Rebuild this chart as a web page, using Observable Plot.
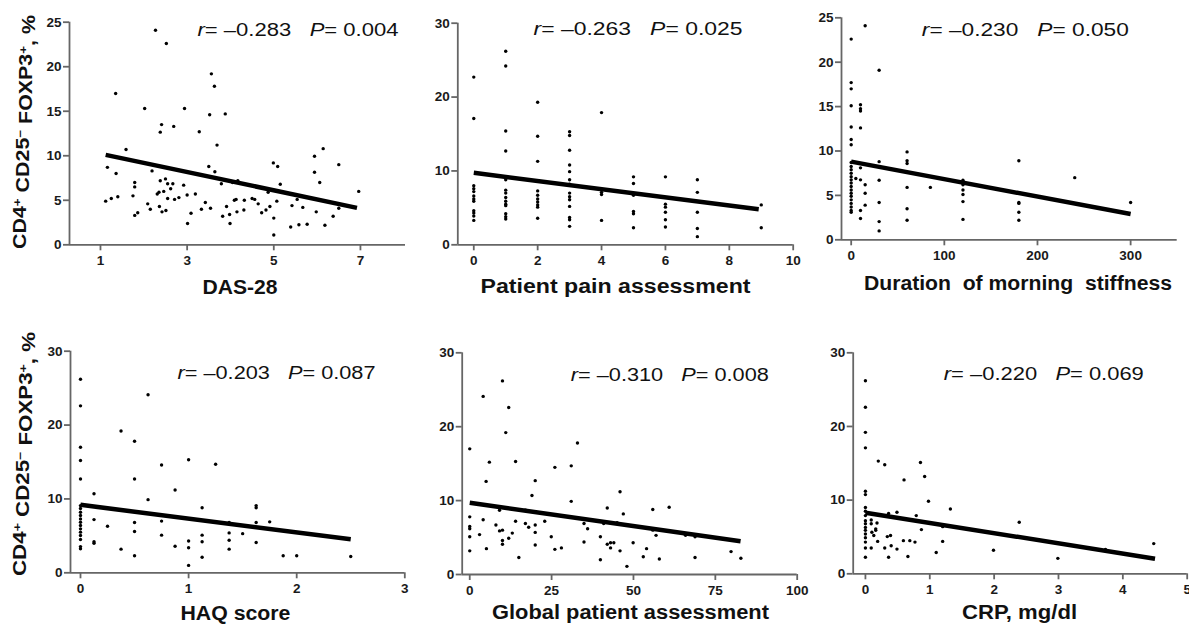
<!DOCTYPE html>
<html><head><meta charset="utf-8">
<script src="https://cdn.jsdelivr.net/npm/d3@7"></script>
<script src="https://cdn.jsdelivr.net/npm/@observablehq/plot@0.6"></script>
<style>
body{margin:0;background:#fff;}
#wrap{position:relative;width:1189px;height:627px;overflow:hidden;background:#fff;}
.panel{position:absolute;}
.panel svg{overflow:visible;}
</style></head><body><div id="wrap"></div>
<script>
// ---------- DATA ----------
const yLabel = "CD4+ CD25\u2212 FOXP3+, %";
const titles = ["DAS-28", "Patient pain assessment", "Duration  of morning  stiffness", "HAQ score", "Global patient assessment", "CRP, mg/dl"];
const rValues = ["\u20130.283", "\u20130.263", "\u20130.230", "\u20130.203", "\u20130.310", "\u20130.220"];
const pValues = ["0.004", "0.025", "0.050", "0.087", "0.008", "0.069"];

const dasTicks = [1, 3, 5, 7];
const painTicks = [0, 2, 4, 6, 8, 10];
const stiffTicks = [0, 100, 200, 300];
const haqTicks = [0, 1, 2, 3];
const globalTicks = [0, 25, 50, 75, 100];
const crpTicks = [0, 1, 2, 3, 4, 5];
const yTicks25 = [0, 5, 10, 15, 20, 25];
const yTicks30 = [0, 10, 20, 30];

// regression line end points [x1, y1, x2, y2]
const dasFit = [1.12, 10.1, 6.92, 4.15];
const painFit = [0, 9.75, 8.92, 4.8];
const stiffFit = [0, 8.8, 300, 2.9];
const haqFit = [0, 9.2, 2.5, 4.55];
const globalFit = [0, 9.7, 82.7, 4.5];
const crpFit = [0, 8.3, 4.5, 2.05];

const dasPoints = [[2.27,24.1],[2.52,22.6],[1.35,17.0],[2.02,15.3],[3.56,19.2],[3.63,17.8],[2.94,15.3],[3.52,14.6],[3.88,14.7],[3.28,12.7],[2.41,13.5],[2.38,12.65],[2.69,13.3],[3.69,11.2],[1.59,10.7],[1.16,8.7],[1.36,8.0],[2.19,8.3],[3.5,8.8],[3.64,8.2],[4.99,9.2],[5.09,8.8],[5.94,9.95],[6.14,10.8],[5.94,8.15],[6.06,7.0],[6.5,9.0],[6.96,6.0],[1.12,4.9],[1.25,5.2],[1.4,5.4],[1.75,5.5],[1.79,7.0],[1.79,6.5],[1.79,3.3],[1.86,3.6],[2.09,4.6],[2.15,4.0],[2.31,5.7],[2.35,5.9],[2.38,7.2],[2.36,4.3],[2.42,3.7],[2.46,6.0],[2.5,7.4],[2.55,6.85],[2.55,5.2],[2.51,3.85],[2.62,6.3],[2.67,6.85],[2.71,5.1],[2.81,5.3],[2.92,6.7],[3.0,5.6],[3.01,2.4],[3.09,3.55],[3.19,5.7],[3.33,4.0],[3.42,4.75],[3.54,4.1],[3.79,6.85],[3.82,3.2],[3.91,4.3],[3.98,3.4],[3.99,2.4],[4.05,7.0],[4.09,5.0],[4.13,5.1],[4.17,7.2],[4.15,3.7],[4.31,3.9],[4.32,5.0],[4.5,5.2],[4.56,5.1],[4.64,4.6],[4.72,3.6],[4.82,3.9],[4.91,4.3],[4.87,5.9],[5.0,3.0],[5.0,1.1],[5.07,4.9],[5.15,6.8],[5.42,4.4],[5.39,2.0],[5.54,5.1],[5.58,2.25],[5.67,4.2],[5.77,2.3],[5.98,3.7],[6.18,2.2],[6.37,3.2],[6.5,4.1]];

const painPoints = [[0,22.7],[0,17.1],[0,8.0],[0,7.6],[0,7.2],[0,6.6],[0,6.2],[0,5.9],[0,4.6],[0,4.3],[0,3.9],[0,3.3],
[1,26.2],[1,24.2],[1,15.4],[1,12.7],[1,8.8],[1,7.4],[1,7.0],[1,6.4],[1,5.9],[1,5.5],[1,5.3],[1,4.2],[1,3.8],[1,3.5],
[2,19.3],[2,14.7],[2,11.3],[2,7.3],[2,6.7],[2,6.2],[2,5.8],[2,5.4],[2,5.1],[2,3.6],
[3,15.3],[3,14.8],[3,12.8],[3,10.8],[3,9.9],[3,8.8],[3,8.2],[3,7.0],[3,6.5],[3,6.1],[3,5.2],[3,3.7],[3,3.4],[3,2.5],
[4,17.9],[4,7.1],[4,6.8],[4,3.3],
[5,9.2],[5,8.3],[5,6.7],[5,4.5],[5,4.2],[5,2.3],
[6,9.2],[6,5.5],[6,5.1],[6,4.4],[6,3.4],[6,2.4],
[7,8.8],[7,7.1],[7,4.4],[7,2.2],[7,1.1],
[9,5.4],[9,2.3]];

const stiffPoints = [[0,22.6],[0,17.7],[0,17.0],[0,15.1],[0,12.7],[0,11.3],[0,10.7],[0,8.7],[0,8.25],[0,7.9],[0,7.5],[0,7.1],[0,6.75],[0,6.4],[0,6.0],[0,5.6],[0,5.25],[0,4.9],[0,4.5],[0,4.1],[0,3.7],[0,3.3],[0,3.1],
[5,6.9],
[10,15.2],[10,14.75],[10,14.5],[10,12.6],[10,8.1],[10,6.75],[10,3.3],[10,2.4],
[15,24.1],[15,6.2],[15,5.25],[15,3.9],
[30,19.1],[30,8.8],[30,6.7],[30,4.2],[30,2.05],[30,1.0],
[60,9.9],[60,8.9],[60,8.6],[60,5.9],[60,3.5],[60,2.2],
[85,5.9],
[120,6.7],[120,6.2],[120,5.6],[120,5.1],[120,4.3],[120,2.3],
[180,8.9],[180,4.2],[180,4.1],[180,3.1],[180,2.2],
[240,7.0],[300,4.2]];

const haqPoints = [[0,26.2],[0,22.6],[0,17.0],[0,15.2],[0,12.7],[0,9.1],[0,8.7],[0,8.2],[0,7.75],[0,7.3],[0,6.85],[0,6.4],[0,5.95],[0,5.5],[0,5.05],[0,4.5],[0,3.55],[0,3.25],
[0.125,10.7],[0.125,7.2],[0.125,4.2],[0.125,4.0],[0.25,6.3],[0.375,19.2],[0.375,3.2],
[0.5,17.8],[0.5,12.7],[0.5,6.8],[0.5,5.6],[0.5,2.3],[0.625,24.1],[0.625,9.9],
[0.75,14.6],[0.75,7.0],[0.75,5.1],[0.875,11.2],[0.875,3.6],
[1.0,15.3],[1.0,4.3],[1.0,3.4],[1.0,1.0],[1.125,8.8],[1.125,5.1],[1.125,4.2],[1.125,2.1],
[1.25,14.7],[1.375,6.8],[1.375,5.4],[1.375,4.4],[1.375,3.2],[1.5,5.3],
[1.625,9.1],[1.625,8.8],[1.625,6.8],[1.625,4.1],[1.75,6.9],[1.875,2.3],[2.0,2.3],[2.5,2.2]];

const globalPoints = [[0,17.0],[0,7.8],[0,6.5],[0,6.2],[0,5.1],[0,3.2],[3,5.4],[4.1,24.1],[4.1,7.4],[5,12.6],[5.1,3.5],[6,15.2],[8,6.7],[9.1,8.7],[9.1,5.9],[10,26.2],[10,6.0],[10,4.6],[10,4.1],[11,19.2],[11.9,22.6],[11.9,4.9],[13,5.6],[14,15.3],[14,7.2],[15,2.3],[17,8.7],[17,6.9],[18,6.4],[19,10.7],[20,12.7],[20,6.7],[20,5.7],[20,4.0],[22.9,7.2],[24.9,5.1],[26,14.5],[26,3.4],[28,3.6],[31,14.7],[31,9.9],[32.9,17.8],[34.9,6.9],[34.9,4.4],[36,6.2],[39.9,5.1],[39.9,2.0],[40.9,6.9],[42,9.0],[42,4.1],[43,3.6],[43,4.3],[44,4.3],[45,7.0],[45.9,11.2],[45.9,3.2],[46.9,8.2],[48,1.1],[49.9,6.6],[49.9,4.3],[53,2.4],[54,3.5],[55.9,8.8],[55.9,6.0],[56.9,5.3],[57.9,2.1],[60.9,9.1],[65.9,5.3],[68.8,2.3],[68.8,5.1],[79.8,3.1],[82.8,2.2]];

const crpPoints = [[0,26.2],[0,22.6],[0,19.2],[0,17.1],[0,11.2],[0,10.75],[0,9.0],[0,8.5],[0,7.9],[0,7.2],[0,6.8],[0,6.3],[0,5.9],[0,5.4],[0,4.9],[0,4.3],[0,3.5],[0,2.25],
[0.09,7.3],[0.09,6.8],[0.1,5.65],[0.16,6.1],[0.18,6.9],[0.13,5.2],[0.16,5.9],[0.19,4.4],[0.09,3.5],[0.34,5.05],[0.39,5.2],[0.3,3.5],[0.4,3.8],[0.36,2.25],[0.49,3.35],[0.59,4.5],[0.69,4.5],[0.77,4.3],[0.87,6.0],[0.66,2.35],[1.1,2.9],[1.2,4.4],[1.2,6.4],[0.2,15.3],[0.3,14.8],[0.855,15.1],[0.92,13.2],[0.6,12.75],[0.98,9.85],[1.32,8.8],[0.36,8.2],[0.49,8.35],[0.79,7.9],[1.99,3.2],[2.39,7.0],[2.99,2.1],[3.73,3.3],[4.48,4.1]];

// ---------- LAYOUT (positions/styles) ----------
const AX = "#666666";
const layout = [
  {left:0,   top:0,   w:410, h:305, ml:69,   mr:5,   mt:21.7, mb:60.7, xd:[0.285,8.04], yd:[0,25], sdx:-7,    sdy:8.2,  sw:201, tdx:2.5,  tdy:43,   tw:75,  ylab:true, ydx:-49, ydy:-1.5, yw:234},
  {left:410, top:0,   w:390, h:305, ml:47.3, mr:7.3, mt:22.7, mb:60.7, xd:[-0.5,10],    yd:[0,30], sdx:-50.7, sdy:5.9,  sw:209, tdx:-10,  tdy:42,   tw:270},
  {left:800, top:0,   w:389, h:305, ml:41,   mr:12.3,mt:17.3, mb:65.7, xd:[-10.4,350],  yd:[0,25], sdx:-48.4, sdy:12.6, sw:207, tdx:8.6,  tdy:44,   tw:308},
  {left:0,   top:305, w:410, h:322, ml:70,   mr:5.7, mt:45.7, mb:54.7, xd:[-0.0925,3],  yd:[0,30], sdx:-29.3, sdy:22.5, sw:198, tdx:-2.2, tdy:40.3, tw:110, ylab:true, ydx:-50, ydy:-8, yw:244},
  {left:410, top:305, w:390, h:322, ml:51.7, mr:3.3, mt:47.3, mb:53,   xd:[-2.3,100],   yd:[0,30], sdx:-28.4, sdy:22.3, sw:198, tdx:0.8,  tdy:37.6, tw:277},
  {left:800, top:305, w:389, h:322, ml:52.7, mr:2.3, mt:47.3, mb:53.7, xd:[-0.19,5],    yd:[0,30], sdx:-43.4, sdy:21.6, sw:200, tdx:-0.7, tdy:38.3, tw:115}
];

const panels = [
  {points: dasPoints,    fit: dasFit,    xTicks: dasTicks,    yTicks: yTicks25},
  {points: painPoints,   fit: painFit,   xTicks: painTicks,   yTicks: yTicks30},
  {points: stiffPoints,  fit: stiffFit,  xTicks: stiffTicks,  yTicks: yTicks25},
  {points: haqPoints,    fit: haqFit,    xTicks: haqTicks,    yTicks: yTicks30},
  {points: globalPoints, fit: globalFit, xTicks: globalTicks, yTicks: yTicks30},
  {points: crpPoints,    fit: crpFit,    xTicks: crpTicks,    yTicks: yTicks30}
];

const NS = "http://www.w3.org/2000/svg";
function tspan(txt, attrs) {
  const t = document.createElementNS(NS, "tspan");
  t.textContent = txt;
  for (const k in attrs) t.setAttribute(k, attrs[k]);
  return t;
}

const wrap = document.getElementById("wrap");
panels.forEach((p, i) => {
  const L = layout[i];
  const statText = "r= " + rValues[i] + "   P= " + pValues[i];
  const pts = p.points.map(([x, y]) => ({x, y}));
  const [x1, y1, x2, y2] = p.fit;
  const marks = [
    Plot.ruleY([0], {stroke: AX, strokeWidth: 1.8}),
    Plot.ruleX([L.xd[0]], {stroke: AX, strokeWidth: 1.8}),
    Plot.axisX(p.xTicks, {anchor: "bottom", tickSize: 6, tickPadding: 5, stroke: AX, strokeWidth: 1.8, label: null}),
    Plot.axisY(p.yTicks, {anchor: "left", tickSize: 6, tickPadding: 2, stroke: AX, strokeWidth: 1.8, label: null}),
    Plot.dot(pts, {x: "x", y: "y", r: 1.7, fill: "#000", stroke: null}),
    Plot.link([{x1, y1, x2, y2}], {x1: "x1", y1: "y1", x2: "x2", y2: "y2", stroke: "#000", strokeWidth: 4.5}),
    Plot.text([statText], {text: d => d, frameAnchor: "top-right", textAnchor: "end", lineAnchor: "middle", dx: L.sdx, dy: L.sdy, fontSize: 18, fontWeight: "normal", fill: "#111"}),
    Plot.text([titles[i]], {text: d => d, frameAnchor: "bottom", textAnchor: "middle", lineAnchor: "middle", dx: L.tdx, dy: L.tdy, fontSize: 20, fontWeight: "bold", fill: "#111"})
  ];
  if (L.ylab) marks.push(Plot.text([yLabel], {text: d => d, frameAnchor: "left", rotate: -90, textAnchor: "middle", lineAnchor: "middle", dx: L.ydx, dy: L.ydy, fontSize: 17.5, fontWeight: "bold", fill: "#111"}));

  const svg = Plot.plot({
    width: L.w, height: L.h,
    marginLeft: L.ml, marginRight: L.mr, marginTop: L.mt, marginBottom: L.mb,
    x: {domain: L.xd, axis: null},
    y: {domain: L.yd, axis: null},
    style: {fontFamily: "'Liberation Sans', Arial, sans-serif", fontSize: "13px", background: "transparent", color: "#1c1c1c", overflow: "visible"},
    marks
  });

  const tickStrings = new Set([...p.xTicks, ...p.yTicks].map(String));
  svg.querySelectorAll("text").forEach(t => {
    const c = t.textContent;
    if (c === statText) {
      t.textContent = "";
      t.style.whiteSpace = "pre";
      t.appendChild(tspan("r", {"font-style": "italic"}));
      t.appendChild(tspan("= " + rValues[i] + "   "));
      t.appendChild(tspan("P", {"font-style": "italic"}));
      t.appendChild(tspan("= " + pValues[i]));
      t.setAttribute("textLength", L.sw);
      t.setAttribute("lengthAdjust", "spacingAndGlyphs");
    } else if (c === titles[i]) {
      t.style.whiteSpace = "pre";
      t.setAttribute("textLength", L.tw);
      t.setAttribute("lengthAdjust", "spacingAndGlyphs");
    } else if (c === yLabel) {
      t.textContent = "";
      t.style.whiteSpace = "pre";
      const parts = yLabel.split(/([+\u2212])/);
      let up = false;
      parts.forEach(s => {
        if (!s) return;
        if (s === "+" || s === "\u2212") {
          t.appendChild(tspan(s, {dy: "-0.45em", "font-size": "11px"}));
          up = true;
        } else {
          t.appendChild(tspan(s, up ? {dy: "0.45em"} : {}));
          up = false;
        }
      });
      t.setAttribute("textLength", L.yw);
      t.setAttribute("lengthAdjust", "spacingAndGlyphs");
    } else if (tickStrings.has(c.trim())) {
      t.style.fontSize = "13.5px";
      t.style.fontWeight = "bold";
      t.style.fill = "#1a1a1a";
      t.style.fontFamily = "'Liberation Sans', Arial, sans-serif";
    }
  });

  const div = document.createElement("div");
  div.className = "panel";
  div.style.left = L.left + "px";
  div.style.top = L.top + "px";
  div.style.width = L.w + "px";
  div.style.height = L.h + "px";
  div.appendChild(svg);
  wrap.appendChild(div);
});
</script>
</body></html>
